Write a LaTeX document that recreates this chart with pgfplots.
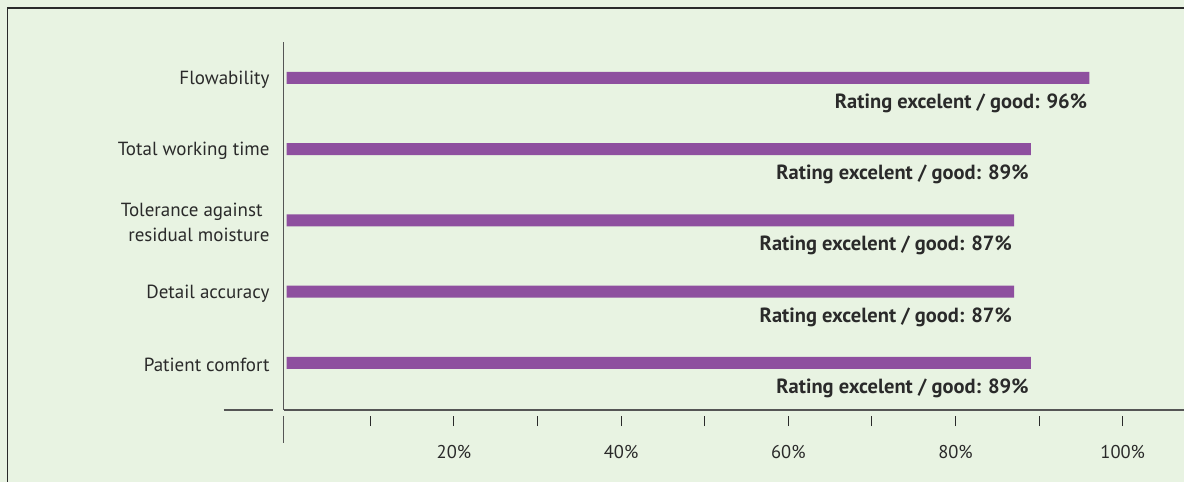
\documentclass[border=0pt]{standalone}
\usepackage{pgfplots}
\pgfplotsset{compat=1.18}
\usepackage{fontspec}
\setmainfont{PT Sans}
\definecolor{bg}{HTML}{E8F3E2}
\definecolor{barc}{HTML}{8E4F9F}
\definecolor{txt}{HTML}{2A2A2A}
\definecolor{axc}{HTML}{555555}
\begin{document}
\begin{tikzpicture}[x=1pt,y=1pt]
\useasboundingbox (0,0) rectangle (1184,482);
\fill[bg] (0,0) rectangle (1184,482);
\draw[line width=1.5pt, color=txt] (7.5,-1) -- (7.5,474) -- (1185,474);
\begin{axis}[
  at={(283.7pt,72pt)}, anchor=south west,
  scale only axis, width=900.3pt, height=368pt,
  xmin=-0.36, xmax=107.33, ymin=-0.66, ymax=4.505,
  axis lines=left,
  axis line style={-, color=axc, line width=1.3pt},
  clip=false,
  xtick={10,20,...,100},
  xticklabels={,20\%,,40\%,,60\%,,80\%,,100\%},
  tick align=outside,
  major tick length=10pt,
  xtick style={color=txt, line width=1.1pt, yshift=-6pt},
  xticklabel style={font=\fontsize{18.5}{22}\selectfont, text=txt, inner sep=0pt, anchor=base, yshift=-38pt},
  ytick={0,1,2,3,4},
  yticklabels={Patient comfort, Detail accuracy, {Tolerance against\hspace*{7pt}\\residual moisture}, Total working time, Flowability},
  ytick style={draw=none},
  yticklabel style={font=\fontsize{19}{25}\selectfont, text=txt, align=right, inner sep=0pt, anchor=east, xshift=-4pt, yshift=-1.5pt},
  xbar, bar width=12pt,
  point meta=x,
  nodes near coords={Rating excelent / good: \pgfmathprintnumber[assume math mode=true]{\pgfplotspointmeta}\%},
  nodes near coords style={font=\bfseries\fontsize{20.5}{24}\selectfont, text=txt, inner sep=0pt, anchor=base east, xshift=-2pt, yshift=-30.5pt},
]
\addplot[fill=barc, draw=none] coordinates {(89,0) (87,1) (87,2) (89,3) (96,4)};
\draw[color=axc, line width=1.3pt] ([yshift=-6pt]rel axis cs:0,0) -- ([yshift=-33pt]rel axis cs:0,0);
\draw[color=axc, line width=1.3pt] ([xshift=-60pt]rel axis cs:0,0) -- ([xshift=-11pt]rel axis cs:0,0);
\end{axis}
\end{tikzpicture}
\end{document}
